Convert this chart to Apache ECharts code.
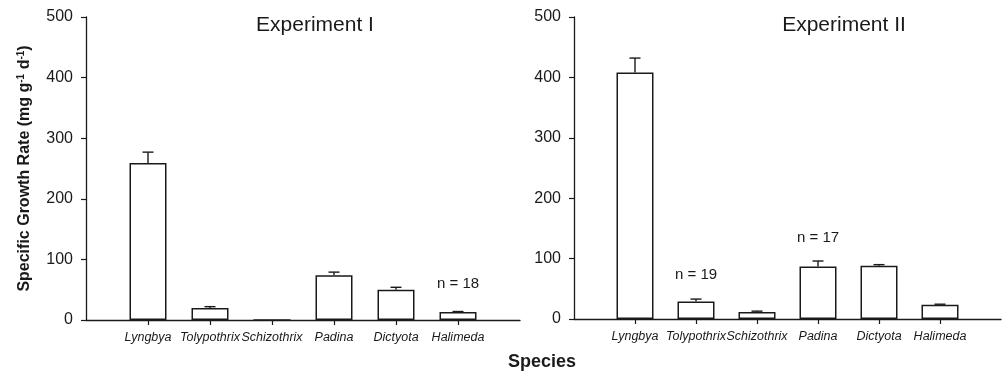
<!DOCTYPE html>
<html>
<head>
<meta charset="utf-8">
<script src="https://cdn.jsdelivr.net/npm/echarts@6/dist/echarts.min.js"></script>
<style>html,body{margin:0;padding:0;background:#fff}#c{width:1004px;height:374px}</style>
</head>
<body>
<div id="c"></div>
<script>
// ---- data ----
const species = ['Lyngbya', 'Tolypothrix', 'Schizothrix', 'Padina', 'Dictyota', 'Halimeda'];
const exp1Mean = [259, 20, 0, 74, 50, 13];
const exp1SE   = [18, 2, 0, 5, 4, 1];
const exp2Mean = [408, 29, 11.5, 87, 88, 23.5];
const exp2SE   = [24, 4, 1.5, 9, 2, 1];
const yTicks = [0, 100, 200, 300, 400, 500];
const notes1 = [{cat: 'Halimeda', y: 59, text: 'n = 18'}];
const notes2 = [{cat: 'Tolypothrix', y: 73, text: 'n = 19'}, {cat: 'Padina', y: 134, text: 'n = 17'}];
const panelTitles = ['Experiment I', 'Experiment II'];

const cats = [''].concat(species, ['']);
const FONT = '"Liberation Sans", Arial, sans-serif';
const INK = '#1a1a1a';

function xAxis(gi) {
  return {
    type: 'category', gridIndex: gi, data: cats, boundaryGap: false,
    axisLine: {lineStyle: {color: INK, width: 1.3}},
    axisTick: {length: 5, lineStyle: {color: INK, width: 1.2},
      interval: function (i) { return i > 0 && i < cats.length - 1; }},
    axisLabel: {margin: 11, fontFamily: FONT, fontSize: 12.5, fontStyle: 'italic', color: INK,
      interval: 0},
    splitLine: {show: false}
  };
}
function yAxis(gi, withName) {
  const a = {
    type: 'value', gridIndex: gi, min: yTicks[0], max: yTicks[yTicks.length - 1], interval: 100,
    axisLine: {show: true, lineStyle: {color: INK, width: 1.3}},
    axisTick: {show: true, length: 5, lineStyle: {color: INK, width: 1.2}},
    axisLabel: {margin: 13, fontFamily: FONT, fontSize: 16, color: INK},
    splitLine: {show: false}
  };
  if (withName) {
    a.name = 'Specific Growth Rate (mg g{sup|-1} d{sup|-1})';
    a.nameLocation = 'middle';
    a.nameRotate = 90;
    a.nameGap = 52;
    a.nameTextStyle = {fontFamily: FONT, fontSize: 16, fontWeight: 'bold', color: INK,
      rich: {sup: {fontFamily: FONT, fontSize: 10, fontWeight: 'bold', color: INK, verticalAlign: 'top', padding: [0, 0, 8, 0]}}};
  }
  return a;
}
function barSeries(gi, means) {
  return {
    type: 'bar', xAxisIndex: gi, yAxisIndex: gi, barWidth: 37,
    data: species.map((s, i) => [s, means[i]]),
    itemStyle: {color: '#fff', borderColor: INK, borderWidth: 1.5},
    silent: true, animation: false
  };
}
function errSeries(gi, means, se) {
  return {
    type: 'custom', xAxisIndex: gi, yAxisIndex: gi, animation: false, silent: true,
    data: species.map((s, i) => [s, means[i], means[i] + se[i]]),
    renderItem: function (params, api) {
      const base = api.coord([api.value(0), api.value(1)]);
      const top = api.coord([api.value(0), api.value(2)]);
      if (api.value(2) - api.value(1) <= 0) return null;
      const st = {stroke: INK, lineWidth: 1.4};
      return {type: 'group', children: [
        {type: 'line', shape: {x1: base[0], y1: base[1], x2: top[0], y2: top[1]}, style: st},
        {type: 'line', shape: {x1: top[0] - 5.5, y1: top[1], x2: top[0] + 5.5, y2: top[1]}, style: st}
      ]};
    }
  };
}
function noteSeries(gi, notes) {
  return {
    type: 'scatter', xAxisIndex: gi, yAxisIndex: gi, symbolSize: 0, silent: true, animation: false,
    itemStyle: {opacity: 1},
    data: notes.map(n => ({value: [n.cat, n.y], label: {formatter: n.text}})),
    label: {show: true, position: 'inside', fontFamily: FONT, fontSize: 15, color: INK, opacity: 1}
  };
}

const chart = echarts.init(document.getElementById('c'), null, {renderer: 'canvas'});
chart.setOption({
  backgroundColor: '#fff',
  animation: false,
  title: [
    {text: panelTitles[0], left: 315, top: 15, textAlign: 'center', padding: 0,
      textStyle: {fontFamily: FONT, fontSize: 21, fontWeight: 'normal', color: INK}},
    {text: panelTitles[1], left: 844, top: 15, textAlign: 'center', padding: 0,
      textStyle: {fontFamily: FONT, fontSize: 21, fontWeight: 'normal', color: INK}},
    {text: 'Species', left: 542, top: 353, textAlign: 'center', padding: 0,
      textStyle: {fontFamily: FONT, fontSize: 18, fontWeight: 'bold', color: INK}}
  ],
  grid: [
    {left: 86, top: 17, width: 434, height: 303},
    {left: 574, top: 17, width: 434, height: 302}
  ],
  xAxis: [xAxis(0), xAxis(1)],
  yAxis: [yAxis(0, true), yAxis(1, false)],
  series: [
    barSeries(0, exp1Mean), errSeries(0, exp1Mean, exp1SE), noteSeries(0, notes1),
    barSeries(1, exp2Mean), errSeries(1, exp2Mean, exp2SE), noteSeries(1, notes2)
  ]
});
</script>
</body>
</html>
